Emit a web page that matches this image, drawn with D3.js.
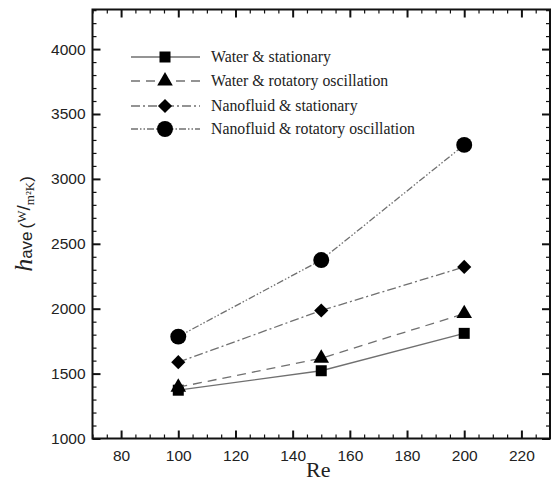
<!DOCTYPE html>
<html lang="en">
<head>
<meta charset="utf-8">
<title>h_ave vs Re</title>
<script src="https://cdn.jsdelivr.net/npm/d3@7"></script>
<style>
  body { margin: 0; background: #fff; }
  .tick text { font-family: "Liberation Sans", Arial, sans-serif; font-size: 15.5px; fill: #222; }
</style>
</head>
<body>
<div id="vizContainer"></div>
<script>
// data
var reValues = [100, 150, 200];
var seriesNames = ["Water & stationary", "Water & rotatory oscillation", "Nanofluid & stationary", "Nanofluid & rotatory oscillation"];
var waterStationary = [1372, 1522, 1810];
var waterRotatory = [1395, 1618, 1962];
var nanoStationary = [1588, 1986, 2322];
var nanoRotatory = [1785, 2375, 3262];
var xTicks = [80, 100, 120, 140, 160, 180, 200, 220];
var yTicks = [1000, 1500, 2000, 2500, 3000, 3500, 4000];

var width = 551, height = 481;
var svg = d3.select("#vizContainer").append("svg")
  .attr("width", width)
  .attr("height", height);

// plot box (window.top is reserved, so use own names)
var pLeft = 92.5, pRight = 550, pTop = 9.5, pBottom = 438.5;

var x = d3.scaleLinear().domain([70, 230]).range([pLeft, pRight]);
var y = d3.scaleLinear().domain([1000, 4305]).range([pBottom, pTop]);

// minor ticks first, then major
function drawTicks(axisFn, scale, vals, size, tr) {
  var g = svg.append("g").attr("transform", tr)
    .call(axisFn(scale).tickValues(vals).tickSize(size).tickFormat(""));
  g.select(".domain").remove();
  g.selectAll(".tick line").attr("stroke", "#111").attr("stroke-width", 1.2);
  return g;
}
var xMinor = d3.range(70, 231, 5).filter(function(d){ return d % 20 !== 0; });
var yMinor = d3.range(1000, 4301, 100).filter(function(d){ return d % 500 !== 0; });

drawTicks(d3.axisTop, x, xMinor, 4, "translate(0," + pBottom + ")");
drawTicks(d3.axisBottom, x, xMinor, 4, "translate(0," + pTop + ")");
drawTicks(d3.axisRight, y, yMinor, 4, "translate(" + pLeft + ",0)");
drawTicks(d3.axisLeft, y, yMinor, 4, "translate(" + pRight + ",0)");

drawTicks(d3.axisTop, x, xTicks, 8, "translate(0," + pBottom + ")").selectAll(".tick line").attr("stroke-width", 2);
drawTicks(d3.axisBottom, x, xTicks, 8, "translate(0," + pTop + ")").selectAll(".tick line").attr("stroke-width", 2);
drawTicks(d3.axisRight, y, yTicks, 8, "translate(" + pLeft + ",0)").selectAll(".tick line").attr("stroke-width", 2);
drawTicks(d3.axisLeft, y, yTicks, 8, "translate(" + pRight + ",0)").selectAll(".tick line").attr("stroke-width", 2);

// tick labels
svg.append("g").attr("transform", "translate(0," + pBottom + ")")
  .call(d3.axisBottom(x).tickValues(xTicks).tickFormat(d3.format("d")).tickSize(0).tickPadding(11))
  .call(function(g){ g.select(".domain").remove(); });
svg.append("g").attr("transform", "translate(" + pLeft + ",0)")
  .call(d3.axisLeft(y).tickValues(yTicks).tickFormat(d3.format("d")).tickSize(0).tickPadding(7))
  .call(function(g){ g.select(".domain").remove(); });

// frame
svg.append("rect")
  .attr("x", pLeft).attr("y", pTop)
  .attr("width", pRight - pLeft).attr("height", pBottom - pTop)
  .attr("fill", "none").attr("stroke", "#111").attr("stroke-width", 2);

// series
var allValues = [waterStationary, waterRotatory, nanoStationary, nanoRotatory];
var dashes = ["", "9,6", "9,3,2,3", "7,2,1.5,2,1.5,2"];
var symbols = [
  d3.symbol().type(d3.symbolSquare).size(121),
  d3.symbol().type(d3.symbolTriangle).size(105),
  d3.symbol().type(d3.symbolSquare).size(100),
  d3.symbol().type(d3.symbolCircle).size(200)
];
var rotations = [0, 0, 45, 0];

var line = d3.line()
  .x(function(d, i){ return x(reValues[i]); })
  .y(function(d){ return y(d); });

allValues.forEach(function(vals, k) {
  svg.append("path")
    .attr("d", line(vals))
    .attr("fill", "none")
    .attr("stroke", "#707070")
    .attr("stroke-width", 1.3)
    .attr("stroke-dasharray", dashes[k]);
  svg.selectAll(".pt" + k)
    .data(vals)
    .enter()
    .append("path")
    .attr("d", symbols[k])
    .attr("transform", function(d, i){
      return "translate(" + x(reValues[i]) + "," + y(d) + ") rotate(" + rotations[k] + ")";
    })
    .attr("fill", "#000");
});

// legend
var legend = svg.append("g");
var legY = [57, 81, 106, 129];
seriesNames.forEach(function(name, k) {
  legend.append("line")
    .attr("x1", 131).attr("x2", 200)
    .attr("y1", legY[k]).attr("y2", legY[k])
    .attr("stroke", "#707070").attr("stroke-width", 1.3)
    .attr("stroke-dasharray", dashes[k]);
  legend.append("path")
    .attr("d", symbols[k])
    .attr("transform", "translate(165," + legY[k] + ") rotate(" + rotations[k] + ")")
    .attr("fill", "#000");
  legend.append("text")
    .attr("x", 211).attr("y", legY[k] + 5)
    .attr("font-family", "Liberation Serif, Times New Roman, serif")
    .attr("font-size", 15.8)
    .attr("fill", "#222")
    .text(name);
});

// axis titles
svg.append("text")
  .attr("x", (pLeft + pRight) / 2 - 3)
  .attr("y", 477)
  .attr("text-anchor", "middle")
  .attr("font-family", "Liberation Serif, Times New Roman, serif")
  .attr("font-size", 22)
  .attr("fill", "#222")
  .text("Re");

var yt = svg.append("text")
  .attr("transform", "translate(32,224) rotate(-90)")
  .attr("text-anchor", "middle")
  .attr("fill", "#222")
  .attr("font-family", "Liberation Sans, Arial, sans-serif");
yt.append("tspan").attr("font-family", "Liberation Serif, serif").attr("font-style", "italic").attr("font-size", 26).text("h");
yt.append("tspan").attr("font-size", 17).text("ave");
yt.append("tspan").attr("font-size", 17).attr("dx", 3).text("(");
yt.append("tspan").attr("font-family", "Liberation Serif, serif").attr("font-size", 13).attr("dy", -6).text("W");
yt.append("tspan").attr("font-size", 19).attr("dy", 4).text("/");
yt.append("tspan").attr("font-family", "Liberation Serif, serif").attr("font-size", 13).attr("dy", 4).text("m²K");
yt.append("tspan").attr("font-size", 17).attr("dy", -2).text(")");
</script>
</body>
</html>
